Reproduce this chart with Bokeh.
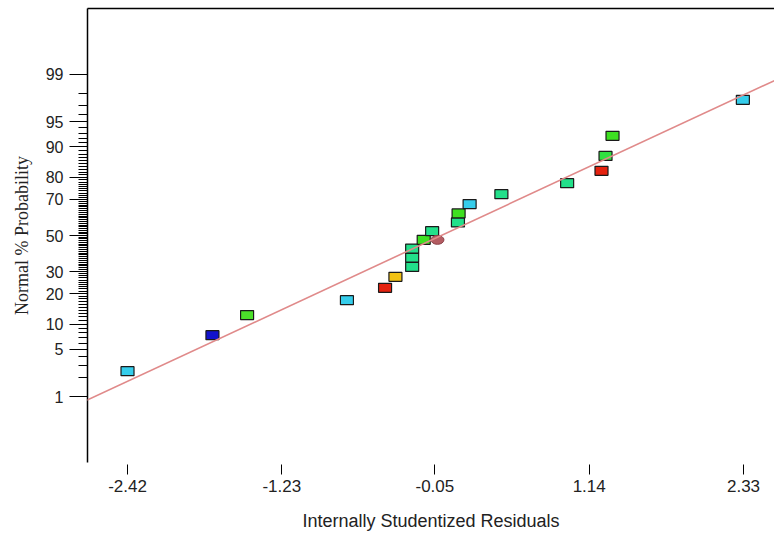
from statistics import NormalDist
import numpy as np
from bokeh.plotting import figure
from bokeh.models import FixedTicker, LinearAxis, Range1d, Slope, ColumnDataSource
from bokeh.embed import file_html
from bokeh.resources import INLINE

# ---- data ----
residuals = [-2.42, -1.765, -1.498, -0.728, -0.434, -0.354, -0.225, -0.225, -0.225,
             -0.136, -0.071, 0.128, 0.133, 0.218, 0.463, 0.970, 1.235, 1.266, 1.320, 2.325]
point_colors = ["#35CDEB", "#1212CC", "#4BDF2A", "#35CDEB", "#E5220F", "#F2C214",
                "#22E08A", "#22E08A", "#22E08A", "#3EE021", "#22E08A", "#22E08A",
                "#3EE021", "#35CDEB", "#22E08A", "#22E08A", "#E5220F", "#30E040",
                "#3EE021", "#35CDEB"]
extra_residual = [-0.03]
extra_rank = [10]
extra_color = ["#B45C62"]

prob_major = [1, 5, 10, 20, 30, 50, 70, 80, 90, 95, 99]
prob_minor = list(range(1, 100))
x_ticks = [-2.42, -1.23, -0.05, 1.14, 2.33]
x_tick_labels = ["-2.42", "-1.23", "-0.05", "1.14", "2.33"]

# ---- derived ----
nd = NormalDist()
n = len(residuals)
z_scores = [nd.inv_cdf((i - 0.5) / n) for i in range(1, n + 1)]
extra_z = [nd.inv_cdf((r - 0.5) / n) for r in extra_rank]
slope, intercept = np.polyfit(residuals, z_scores, 1)

major_z = [nd.inv_cdf(p / 100) for p in prob_major]
minor_z = [nd.inv_cdf(p / 100) for p in prob_minor]

p = figure(width=774, height=536, output_backend="svg", toolbar_location=None,
           x_range=Range1d(-2.7285, 2.569), y_range=Range1d(-3.28, 3.28),
           min_border_left=87, min_border_right=0, min_border_top=8, min_border_bottom=74,
           x_axis_label="Internally Studentized Residuals",
           y_axis_label="Normal % Probability")
p.grid.visible = False
p.outline_line_color = None
p.background_fill_color = "white"
p.border_fill_color = "white"

# y axis
ya = p.yaxis[0]
ya.ticker = FixedTicker(ticks=major_z, minor_ticks=minor_z)
ya.major_label_overrides = {z: str(v) for z, v in zip(major_z, prob_major)}
ya.major_tick_out = 18
ya.major_tick_in = 0
ya.minor_tick_out = 9
ya.minor_tick_in = 0
ya.major_tick_line_color = "black"
ya.minor_tick_line_color = "black"
ya.axis_line_color = "black"
ya.axis_line_width = 1.5
ya.major_label_standoff = 6
ya.major_label_text_font = "Liberation Sans"
ya.major_label_text_font_size = "16px"
ya.major_label_text_color = "#222222"
ya.axis_label_text_font = "Liberation Serif"
ya.axis_label_text_font_size = "18px"
ya.axis_label_text_font_style = "normal"
ya.axis_label_text_color = "#222222"
ya.axis_label_standoff = 11

# x axis
xa = p.xaxis[0]
xa.ticker = FixedTicker(ticks=x_ticks)
xa.major_label_overrides = {t: l for t, l in zip(x_ticks, x_tick_labels)}
xa.axis_line_color = None
xa.major_tick_out = 12
xa.major_tick_in = -2
xa.minor_tick_line_color = None
xa.major_tick_line_color = "black"
xa.major_label_standoff = 5
xa.major_label_text_font = "Liberation Sans"
xa.major_label_text_font_size = "17px"
xa.major_label_text_color = "#222222"
xa.axis_label_text_font = "Liberation Sans"
xa.axis_label_text_font_size = "18px"
xa.axis_label_text_font_style = "normal"
xa.axis_label_text_color = "#222222"
xa.axis_label_standoff = 16

# top border
top = LinearAxis(ticker=FixedTicker(ticks=[]), axis_line_color="black", axis_line_width=1.5,
                 major_tick_line_color=None, minor_tick_line_color=None,
                 major_label_text_font_size="0px", major_label_standoff=0)
p.add_layout(top, "above")

# fitted line
p.add_layout(Slope(gradient=slope, y_intercept=intercept, line_color="#E08A8A", line_width=1.6))

src = ColumnDataSource(dict(x=residuals, y=z_scores, c=point_colors))
p.rect(x="x", y="y", width=13, height=9, width_units="screen", height_units="screen",
       fill_color="c", line_color="#1a1a1a", line_width=1.2, source=src)

p.ellipse(x=extra_residual, y=extra_z, width=13, height=9, width_units="screen",
          height_units="screen", fill_color=extra_color, line_color="#8a4048", line_width=1)

open("out.html", "w").write(file_html(p, INLINE))
